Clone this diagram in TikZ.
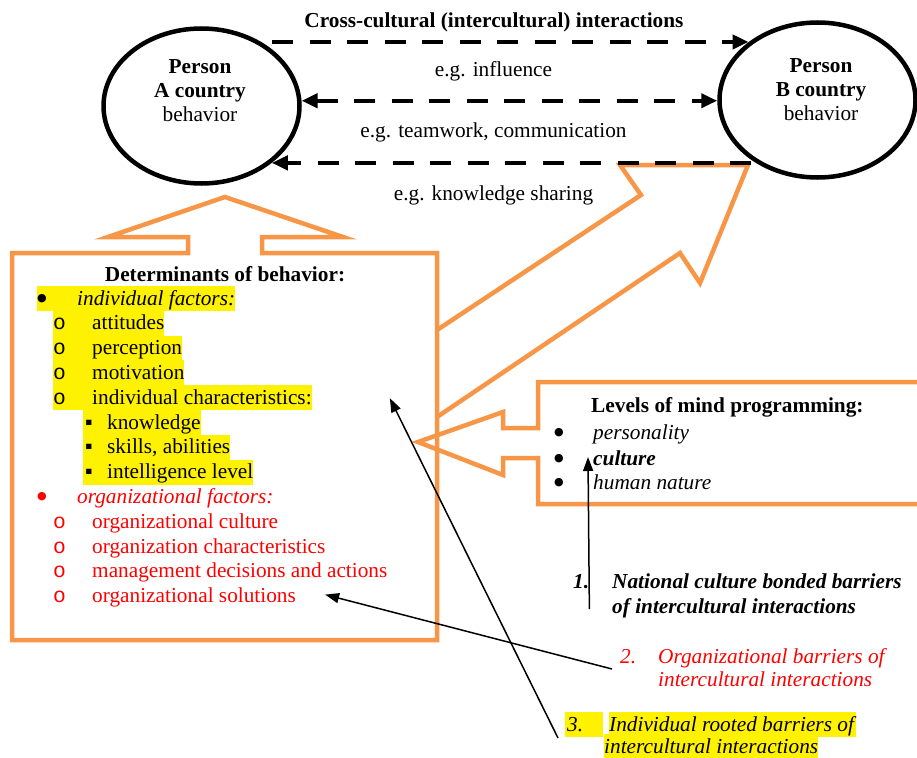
\documentclass[tikz,border=0pt]{standalone}
\usepackage{fontspec}
\setmainfont{Liberation Serif}
\newfontfamily\circlefont{Liberation Mono}
\newfontfamily\dotfont{DejaVu Sans}
\usetikzlibrary{arrows.meta, positioning, calc, shapes}
\definecolor{boxorange}{RGB}{247,150,70}
\newcommand{\bigdot}{\raisebox{4pt}{\dotfont\fontsize{11}{24}\selectfont ●}}

\begin{document}
\begin{tikzpicture}[x=1pt,y=-1pt,
        every node/.style={font=\fontsize{21.3}{24}\selectfont, inner sep=0pt},
        person/.style={draw,ellipse,line width=4.5pt,minimum width=196pt,minimum height=155pt},
        interact/.style={line width=4.5pt,dash pattern=on 21pt off 16.5pt,>={Triangle[length=16pt,width=14pt]}},
        outline/.style={draw=boxorange,line width=4.5pt,line join=miter},
        barrier/.style={line width=1.5pt,-{Triangle[length=14pt,width=10pt]}},
        item/.style={anchor=base west},
        hl/.style={fill=yellow,text height=19pt,text depth=6pt}]
        \useasboundingbox (0,0) rectangle (917,757);
        % orange shapes
        \draw[outline] (12,253) -- (188,253) -- (188,237) -- (108,237) -- (225,197) -- (343,237) -- (262,237) -- (262,253) -- (437,253) -- (437,640) -- (12,640) -- cycle;
        \draw[outline] (437,330) -- (641,195) -- (620,165) -- (748,165) -- (700,283) -- (680,253) -- (437,417);
        \draw[outline] (922,382) -- (538,382) -- (538,428) -- (503,428) -- (503,412) -- (418,442) -- (503,475) -- (503,458) -- (538,458) -- (538,504) -- (922,504);
        % persons
        \node[person] (A) at (201.5,106) {};
        \node[person] (B) at (817.5,100) {};
        \node[align=center] (Atext) at (200,90.5) {\textbf{Person}\\\textbf{A country}\\behavior};
        \node[align=center] (Btext) at (821,89.5) {\textbf{Person}\\\textbf{B country}\\behavior};
        \node[anchor=base] (title) at (494,28) {\textbf{Cross-cultural (intercultural) interactions}};
        \node[anchor=base] (influence) at (493.5,77) {e.g. influence};
        \node[anchor=base] (teamwork) at (493.5,137) {e.g. teamwork, communication};
        \node[anchor=base] (sharing) at (493.5,200) {e.g. knowledge sharing};
        \draw[interact,->,shorten <=11pt] (A.47) -- (A.47 -| B.140);
        \draw[interact,<->] (A.3) -- (A.3 -| B.west);
        \draw[interact,->] (B.222 |- A.-39) -- (A.-39);
        % determinants of behavior
        \node[anchor=base] (determ) at (225,281) {\textbf{Determinants of behavior:}};
        \node[item,hl] (indiv) at (37,305) {\makebox[40pt][l]{\bigdot}\textit{individual factors:}};
        \node[item,hl] (attit) at (53,329.8) {\makebox[39pt][l]{\circlefont o}attitudes};
        \node[item,hl] (percep) at (53,354.6) {\makebox[39pt][l]{\circlefont o}perception};
        \node[item,hl] (motiv) at (53,379.4) {\makebox[39pt][l]{\circlefont o}motivation};
        \node[item,hl] (indchar) at (53,404.2) {\makebox[39pt][l]{\circlefont o}individual characteristics:};
        \node[item,hl] (knowl) at (83,429) {\makebox[24pt][l]{\hspace{2pt}▪}knowledge};
        \node[item,hl] (skills) at (83,453.8) {\makebox[24pt][l]{\hspace{2pt}▪}skills, abilities};
        \node[item,hl] (intel) at (83,478.6) {\makebox[24pt][l]{\hspace{2pt}▪}intelligence level};
        \node[item,text=red] (orgfac) at (37,503.4) {\makebox[40pt][l]{\bigdot}\textit{organizational factors:}};
        \node[item,text=red] (orgcult) at (53,528.2) {\makebox[39pt][l]{\circlefont o}organizational culture};
        \node[item,text=red] (orgchar) at (53,553) {\makebox[39pt][l]{\circlefont o}organization characteristics};
        \node[item,text=red] (mgmt) at (53,577.8) {\makebox[39pt][l]{\circlefont o}management decisions and actions};
        \node[item,text=red] (orgsol) at (53,602.6) {\makebox[39pt][l]{\circlefont o}organizational solutions};
        % levels of mind programming
        \node[item] (levels) at (591,412) {\textbf{Levels of mind programming:}};
        \node[item] (person) at (554,439) {\makebox[39pt][l]{\bigdot}\textit{personality}};
        \node[item] (cult) at (554,465) {\makebox[39pt][l]{\bigdot}\textbf{\textit{culture}}};
        \node[item] (human) at (554,489) {\makebox[39pt][l]{\bigdot}\textit{human nature}};
        % barriers
        \node[item] (b1num) at (573,588) {\textbf{\textit{1.}}};
        \node[item] (b1a) at (612,588) {\textbf{\textit{National culture bonded barriers}}};
        \node[item] (b1b) at (612,613) {\textbf{\textit{of intercultural interactions}}};
        \node[item,text=red] (b2num) at (620,663) {\textit{2.}};
        \node[item,text=red] (b2a) at (658,663) {\textit{Organizational barriers of}};
        \node[item,text=red] (b2b) at (658,686) {\textit{intercultural interactions}};
        \node[item,hl] (b3num) at (565,731) {\makebox[38pt][l]{\hspace{2pt}\textit{3.}}};
        \node[item,hl] (b3a) at (609,731) {\textit{Individual rooted barriers of}};
        \node[item,hl] (b3b) at (604,753) {\textit{intercultural interactions}};
        \draw[barrier] ($(b1num.base east)+(0,21)$) -- ($(cult.base west)+(34,-8)$);
        \draw[barrier] ($(b2num.base west)+(-8,6)$) -- ($(orgsol.base east)+(29,-8)$);
        \draw[barrier] ($(b3num.base west)+(-7,7)$) -- ($(indchar.base east)+(78,-6)$);
\end{tikzpicture}
\end{document}
